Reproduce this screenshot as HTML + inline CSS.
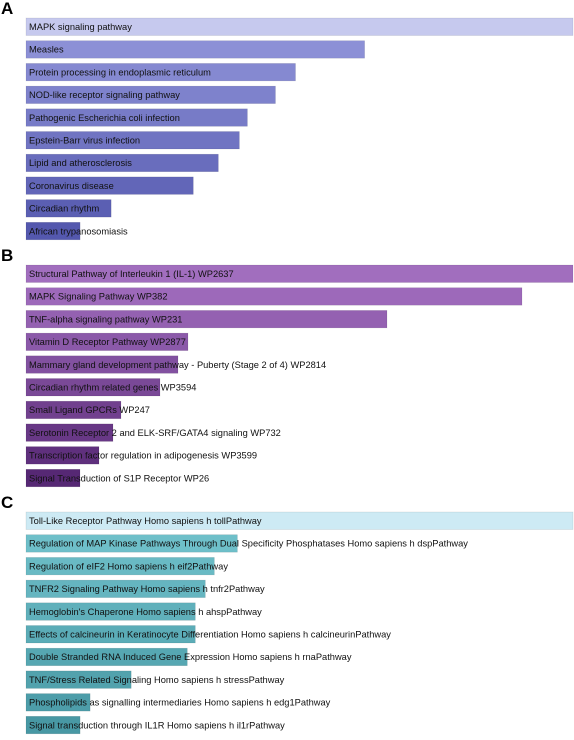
<!DOCTYPE html>
<html><head><meta charset="utf-8"><style>
body{margin:0;background:#fff;width:574px;height:735px;overflow:hidden;font-family:"Liberation Sans",sans-serif;}
svg text{font-family:"Liberation Sans",sans-serif;}
</style></head><body>
<svg id="chart" width="574" height="735"></svg>
<script>
const labelsA=["MAPK signaling pathway","Measles","Protein processing in endoplasmic reticulum","NOD-like receptor signaling pathway","Pathogenic Escherichia coli infection","Epstein-Barr virus infection","Lipid and atherosclerosis","Coronavirus disease","Circadian rhythm","African trypanosomiasis"];
const valuesA=[546,338,269,249,221,213,192,167,85,54];
const labelsB=["Structural Pathway of Interleukin 1 (IL-1) WP2637","MAPK Signaling Pathway WP382","TNF-alpha signaling pathway WP231","Vitamin D Receptor Pathway WP2877","Mammary gland development pathway - Puberty (Stage 2 of 4) WP2814","Circadian rhythm related genes WP3594","Small Ligand GPCRs WP247","Serotonin Receptor 2 and ELK-SRF/GATA4 signaling WP732","Transcription factor regulation in adipogenesis WP3599","Signal Transduction of S1P Receptor WP26"];
const valuesB=[547,496,361,162,152,134,95,87,73,54];
const labelsC=["Toll-Like Receptor Pathway Homo sapiens h tollPathway","Regulation of MAP Kinase Pathways Through Dual Specificity Phosphatases Homo sapiens h dspPathway","Regulation of eIF2 Homo sapiens h eif2Pathway","TNFR2 Signaling Pathway Homo sapiens h tnfr2Pathway","Hemoglobin's Chaperone Homo sapiens h ahspPathway","Effects of calcineurin in Keratinocyte Differentiation Homo sapiens h calcineurinPathway","Double Stranded RNA Induced Gene Expression Homo sapiens h rnaPathway","TNF/Stress Related Signaling Homo sapiens h stressPathway","Phospholipids as signalling intermediaries Homo sapiens h edg1Pathway","Signal transduction through IL1R Homo sapiens h il1rPathway"];
const valuesC=[546,211,188,179,169,169,161,105,64,54];

const svg=document.getElementById('chart');
const NS='http://www.w3.org/2000/svg';
const x0=26, pitch=22.7, bh=17.5;
function lerp(a,b,t){return a.map((v,i)=>Math.round(v+(b[i]-v)*t));}
function panel(letter,top,labels,values,topCol,c1,c2,key){
  const maxV=Math.max(...values);
  const xs=v=>v/maxV*547;
  const t=document.createElementNS(NS,'text');
  t.setAttribute('x',1);t.setAttribute('y',top-4);t.setAttribute('font-size','17');t.setAttribute('font-weight','bold');t.textContent=letter;
  
  
  svg.appendChild(t);
  values.forEach((v,i)=>{
    const y=top+i*pitch;
    const r=document.createElementNS(NS,'rect');
    r.setAttribute('x',x0);r.setAttribute('y',y);r.setAttribute('width',xs(v));r.setAttribute('height',bh);
    const col=i===0?topCol:lerp(c1,c2,(i-1)/8);
    r.setAttribute('fill','rgb('+col.join(',')+')');
    r.setAttribute('stroke','rgba(0,0,0,0.12)');r.setAttribute('stroke-width','0.6');
    
    
    svg.appendChild(r);
    const tx=document.createElementNS(NS,'text');
    tx.setAttribute('x',x0+3);tx.setAttribute('y',y+12);tx.setAttribute('font-size','9.3');tx.setAttribute('fill','#111');
    tx.textContent=labels[i];
    
    
    svg.appendChild(tx);
  });
}
panel('A',18,labelsA,valuesA,[198,201,238],[140,144,214],[84,88,174],'a');
panel('B',265,labelsB,valuesB,[161,110,190],[157,105,186],[86,40,116],'b');
panel('C',512,labelsC,valuesC,[205,234,244],[110,191,201],[72,152,164],'c');
</script>
</body></html>
